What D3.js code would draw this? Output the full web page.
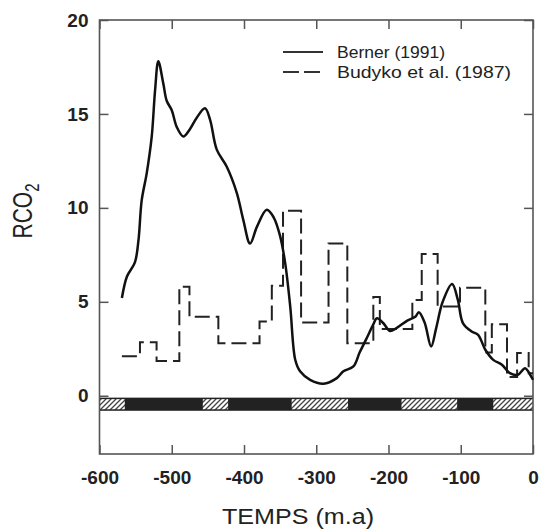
<!DOCTYPE html>
<html>
<head>
    <meta charset="utf-8" />
    <title>RCO2</title>
    <script src="https://cdnjs.cloudflare.com/ajax/libs/d3/7.8.5/d3.min.js" type="text/JavaScript"></script>
    <style>
      body { margin: 0; background: #fff; }
      text { font-family: "Liberation Sans", Arial, sans-serif; fill: #222; }
    </style>
</head>
<body>
    <div id="viz">
      <svg style="width:543px;height:529px;" ></svg>
    </div>
  <script>
    // Berner (1991)
    let bernerTime = [-569, -562, -551, -546, -541.6, -534.6, -527.7, -523, -518.6, -511.6, -507, -500, -493, -484, -474.7,
                      -465.4, -454, -447, -437.7, -424, -410, -401, -391.6, -382, -368.5, -359, -350, -343, -336, -329,
                      -322.4, -308.5, -290, -271.6, -262.4, -248.6, -240, -231, -221, -216, -207, -198, -189, -174, -163,
                      -158, -150, -141, -134, -125, -112, -104, -97, -85, -76, -66, -55, -43, -32, -21, -11, -4, 0]
    let bernerValue = [5.2, 6.35, 7.1, 8.3, 10.4, 11.85, 13.8, 16.3, 17.8, 16.6, 15.7, 15.2, 14.3, 13.8, 14.2,
                       14.8, 15.3, 14.7, 13.1, 12.2, 10.8, 9.36, 8.1, 9.0, 9.9, 9.5, 8.5, 7.06, 4.75, 1.9,
                       1.3, 0.85, 0.64, 0.94, 1.3, 1.56, 2.3, 3.0, 3.8, 4.13, 3.86, 3.45, 3.6, 4.0, 4.2,
                       4.45, 3.9, 2.62, 3.6, 5.0, 5.95, 5.1, 3.87, 3.42, 3.24, 2.45, 1.91, 1.65, 1.2, 1.12, 1.47, 1.12, 0.85]

    // Budyko et al. (1987), steps: start of each step and its level
    let budykoStart = [-569, -544, -521, -489.5, -475.5, -435.5, -378.5, -361.5, -346, -321, -283, -257, -221, -212,
                       -167, -154, -132, -101, -66, -57, -36, -22, -6]
    let budykoEnd = 0
    let budykoValue = [2.1, 2.85, 1.85, 5.8, 4.2, 2.8, 3.95, 5.85, 9.85, 3.9, 8.1, 2.8, 5.25, 3.55,
                       5.1, 7.55, 4.75, 5.75, 2.3, 3.8, 1.0, 2.27, 1.2]

    // glacial band along zero, hatched intervals
    let bandTop = -0.1
    let bandBottom = -0.8
    let hatchFrom = [-600, -457, -334, -182, -55]
    let hatchTo = [-565, -422, -256, -105, 0]

    let xTicks = [-600, -500, -400, -300, -200, -100, 0]
    let yTicks = [0, 5, 10, 15, 20]

    let svg = d3.select('svg')
    let xScale = d3.scaleLinear().domain([-600, 0]).range([99.5, 533])
    let yScale = d3.scaleLinear().domain([-3.1, 20]).range([454, 20])

    let defs = svg.append('defs')
    let pat = defs.append('pattern').attr('id', 'hatch').attr('patternUnits', 'userSpaceOnUse')
      .attr('width', 5).attr('height', 5)
    pat.append('rect').attr('width', 5).attr('height', 5).style('fill', '#fff')
    pat.append('path').attr('d', 'M0,5 L5,0 M-1,1 L1,-1 M4,6 L6,4')
      .style('stroke', '#444').style('stroke-width', 1.3)

    // band
    svg.append('rect')
      .attr('x', xScale(-600)).attr('width', xScale(0) - xScale(-600))
      .attr('y', yScale(bandTop)).attr('height', yScale(bandBottom) - yScale(bandTop))
      .style('fill', '#222')

    svg.selectAll('rect.hatch')
      .data(hatchFrom)
      .enter()
      .append('rect')
      .attr('class', 'hatch')
      .attr('x', function(d) { return xScale(d) })
      .attr('width', function(d, i) { return xScale(hatchTo[i]) - xScale(d) })
      .attr('y', yScale(bandTop) + 1.5)
      .attr('height', yScale(bandBottom) - yScale(bandTop) - 3)
      .style('fill', 'url(#hatch)')

    // axes with inward ticks on all sides (plain hyphen for negatives)
    let fmt = function(d) { return String(d) }
    let xAxis = d3.axisBottom(xScale).tickValues(xTicks).tickFormat(fmt).tickSizeInner(-9).tickSizeOuter(0).tickPadding(17)
    svg.append('g').attr('id', 'xAxis').attr('transform', 'translate(0,' + yScale(-3.1) + ')').call(xAxis)
    let xTop = d3.axisTop(xScale).tickValues(xTicks).tickSizeInner(-9).tickSizeOuter(0).tickFormat('')
    svg.append('g').attr('transform', 'translate(0,' + yScale(20) + ')').call(xTop)

    let yAxis = d3.axisLeft(yScale).tickValues(yTicks).tickFormat(fmt).tickSizeInner(-9).tickSizeOuter(0).tickPadding(11)
    svg.append('g').attr('id', 'yAxis').attr('transform', 'translate(' + xScale(-600) + ',0)').call(yAxis)
    let yRight = d3.axisRight(yScale).tickValues(yTicks).tickSizeInner(-9).tickSizeOuter(0).tickFormat('')
    svg.append('g').attr('transform', 'translate(' + xScale(0) + ',0)').call(yRight)

    svg.selectAll('.domain').remove()
    svg.selectAll('.tick line').style('stroke', '#555').style('stroke-width', 1.5)
    svg.selectAll('.tick text').style('font-size', '19px').style('font-weight', 'bold')
      .style('font-family', '"Liberation Sans", Arial, sans-serif').style('fill', '#222')

    svg.append('rect')
      .attr('x', xScale(-600)).attr('y', yScale(20))
      .attr('width', xScale(0) - xScale(-600)).attr('height', yScale(-3.1) - yScale(20))
      .style('fill', 'none').style('stroke', '#555').style('stroke-width', 1.6)

    // Budyko dashed steps
    let budykoPts = budykoStart.map(function(d, i) { return [d, budykoValue[i]] })
    budykoPts.push([budykoEnd, budykoValue[budykoValue.length - 1]])
    let stepLine = d3.line()
                     .x(function(d) { return xScale(d[0]) })
                     .y(function(d) { return yScale(d[1]) })
                     .curve(d3.curveStepAfter)
    svg.append('path')
      .attr('id', 'pbudyko')
      .attr('d', stepLine(budykoPts))
      .style('fill', 'none')
      .style('stroke', '#222')
      .style('stroke-width', '2')
      .style('stroke-dasharray', '15,6')

    // Berner solid curve
    let bernerPts = bernerTime.map(function(d, i) { return [d, bernerValue[i]] })
    let bernerLine = d3.line()
                       .x(function(d) { return xScale(d[0]) })
                       .y(function(d) { return yScale(d[1]) })
                       .curve(d3.curveCatmullRom.alpha(0.5))
    svg.append('path')
      .attr('id', 'pberner')
      .attr('d', bernerLine(bernerPts))
      .style('fill', 'none')
      .style('stroke', '#111')
      .style('stroke-width', '2.5')

    // legend
    svg.append('line').attr('x1', 283).attr('x2', 323).attr('y1', 52).attr('y2', 52)
      .style('stroke', '#333').style('stroke-width', 2)
    svg.append('text').attr('x', 337).attr('y', 58).style('font-size', '17px')
      .attr('textLength', 108).attr('lengthAdjust', 'spacingAndGlyphs').text('Berner (1991)')
    svg.append('line').attr('x1', 283).attr('x2', 321).attr('y1', 72).attr('y2', 72)
      .style('stroke', '#333').style('stroke-width', 2).style('stroke-dasharray', '16,5')
    svg.append('text').attr('x', 337).attr('y', 78).style('font-size', '17px')
      .attr('textLength', 174).attr('lengthAdjust', 'spacingAndGlyphs').text('Budyko et al. (1987)')

    // axis titles
    svg.append('text').attr('x', 298).attr('y', 524).attr('text-anchor', 'middle')
      .style('font-size', '22px').attr('textLength', 152).attr('lengthAdjust', 'spacingAndGlyphs')
      .text('TEMPS (m.a)')

    let yTitle = svg.append('text').attr('text-anchor', 'middle')
      .attr('transform', 'translate(32,211) scale(1.3,1) rotate(-90)')
      .style('font-size', '21px')
    yTitle.append('tspan').text('RCO')
    yTitle.append('tspan').attr('dy', 5).style('font-size', '15px').text('2')
  </script>
</body>
</html>
